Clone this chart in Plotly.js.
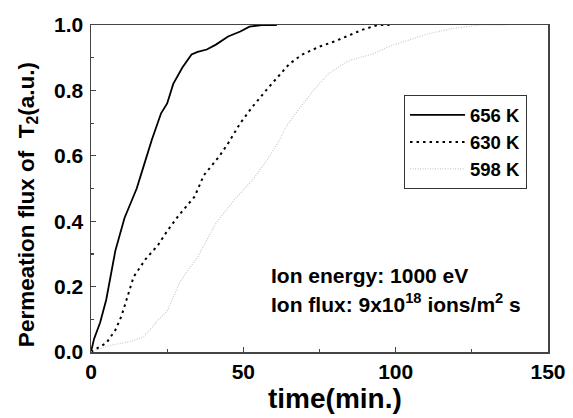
<!DOCTYPE html>
<html>
<head>
<meta charset="utf-8">
<script src="https://cdn.plot.ly/plotly-3.0.1.min.js"></script>
<style>html,body{margin:0;padding:0;background:#fff;}#chart{width:573px;height:418px;}</style>
</head>
<body>
<div id="chart"></div>
<script>
// 656 K (solid)
var t656 = [0, 1, 3, 5, 8, 11, 13, 15, 17, 20, 23, 25, 27, 30, 33, 35, 38, 41, 45, 49, 52, 56, 61];
var y656 = [0, 0.04, 0.09, 0.16, 0.31, 0.41, 0.455, 0.50, 0.56, 0.65, 0.73, 0.76, 0.82, 0.87, 0.91, 0.918, 0.925, 0.94, 0.965, 0.98, 0.995, 1.0, 1.0];
// 630 K (dashed)
var t630 = [0, 2, 5, 8, 10, 12, 14, 18, 22, 25, 29, 34, 37, 42, 45, 49, 53, 58, 62, 65, 69, 75, 80, 84, 89, 94, 98];
var y630 = [0, 0.01, 0.027, 0.067, 0.11, 0.17, 0.23, 0.285, 0.327, 0.37, 0.42, 0.475, 0.54, 0.597, 0.638, 0.70, 0.75, 0.806, 0.85, 0.88, 0.908, 0.934, 0.95, 0.965, 0.985, 1.0, 1.0];
// 598 K (dotted)
var t598 = [0, 6, 13, 17, 20, 22, 25, 29, 31, 35, 41, 47, 53, 58, 62, 64, 68, 73, 78, 84, 88, 93, 98, 104, 111, 119, 128, 137];
var y598 = [0, 0.02, 0.032, 0.045, 0.075, 0.098, 0.125, 0.21, 0.24, 0.29, 0.394, 0.465, 0.526, 0.59, 0.65, 0.689, 0.74, 0.80, 0.852, 0.888, 0.90, 0.913, 0.935, 0.954, 0.974, 0.99, 1.0, 1.0];
var seriesNames = ['656 K', '630 K', '598 K'];
var xTitle = 'time(min.)';
var yTitle = 'Permeation flux of  T<sub>2</sub>(a.u.)';
var noteLines = ['Ion energy: 1000 eV', 'Ion flux: 9x10<sup>18</sup> ions/m<sup>2</sup> s'];

var FONT = 'Liberation Sans, Arial, sans-serif';
var traces = [
  {x: t656, y: y656, name: seriesNames[0], mode: 'lines', line: {color: '#000', width: 1.8}},
  {x: t630, y: y630, name: seriesNames[1], mode: 'lines', line: {color: '#000', width: 2, dash: '2.5px,4px'}},
  {x: t598, y: y598, name: seriesNames[2], mode: 'lines', line: {color: '#c8c8c8', width: 1.2, dash: '1px,1.5px'}}
];
var axisCommon = {
  showgrid: false, zeroline: false, showline: true, linecolor: '#444', linewidth: 1.5, mirror: true,
  ticks: 'inside', ticklen: 5, tickwidth: 1.2, tickcolor: '#444',
  tickfont: {family: FONT, size: 21, color: '#000', weight: 'bold'}
};
var layout = {
  width: 573, height: 418,
  margin: {l: 91, r: 25, t: 25, b: 66},
  paper_bgcolor: '#fff', plot_bgcolor: '#fff',
  showlegend: true,
  legend: {x: 0.685, y: 0.785, xanchor: 'left', yanchor: 'top', bgcolor: '#fff', bordercolor: '#333', borderwidth: 1,
           font: {family: FONT, size: 18.5, color: '#000', weight: 'bold'}, tracegroupgap: 0, itemwidth: 55},
  xaxis: Object.assign({}, axisCommon, {
    range: [0, 150], dtick: 50, tick0: 0,
    minor: {ticks: 'inside', ticklen: 3, dtick: 25, tickcolor: '#444'}
  }),
  yaxis: Object.assign({}, axisCommon, {
    range: [0, 1.0], dtick: 0.2, tickformat: '.1f', ticklabelstandoff: 2,
    minor: {ticks: 'inside', ticklen: 3, dtick: 0.1, tickcolor: '#444'}
  }),
  annotations: [
    {xref: 'paper', yref: 'paper', x: 0.535, y: -0.143, xanchor: 'center', yanchor: 'middle', showarrow: false,
     text: xTitle, font: {family: FONT, size: 28, color: '#000', weight: 'bold'}},
    {xref: 'paper', yref: 'paper', x: -0.138, y: 0.452, xanchor: 'center', yanchor: 'middle', showarrow: false,
     textangle: -90, text: yTitle, font: {family: FONT, size: 22.5, color: '#000', weight: 'bold'}},
    {xref: 'paper', yref: 'paper', x: 0.3895, y: 0.234, xanchor: 'left', yanchor: 'middle', showarrow: false,
     text: noteLines[0], font: {family: FONT, size: 21, color: '#000', weight: 'bold'}},
    {xref: 'paper', yref: 'paper', x: 0.3895, y: 0.15, xanchor: 'left', yanchor: 'middle', showarrow: false,
     text: noteLines[1], font: {family: FONT, size: 21, color: '#000', weight: 'bold'}}
  ]
};
Plotly.newPlot('chart', traces, layout, {displayModeBar: false, staticPlot: true});
</script>
</body>
</html>
